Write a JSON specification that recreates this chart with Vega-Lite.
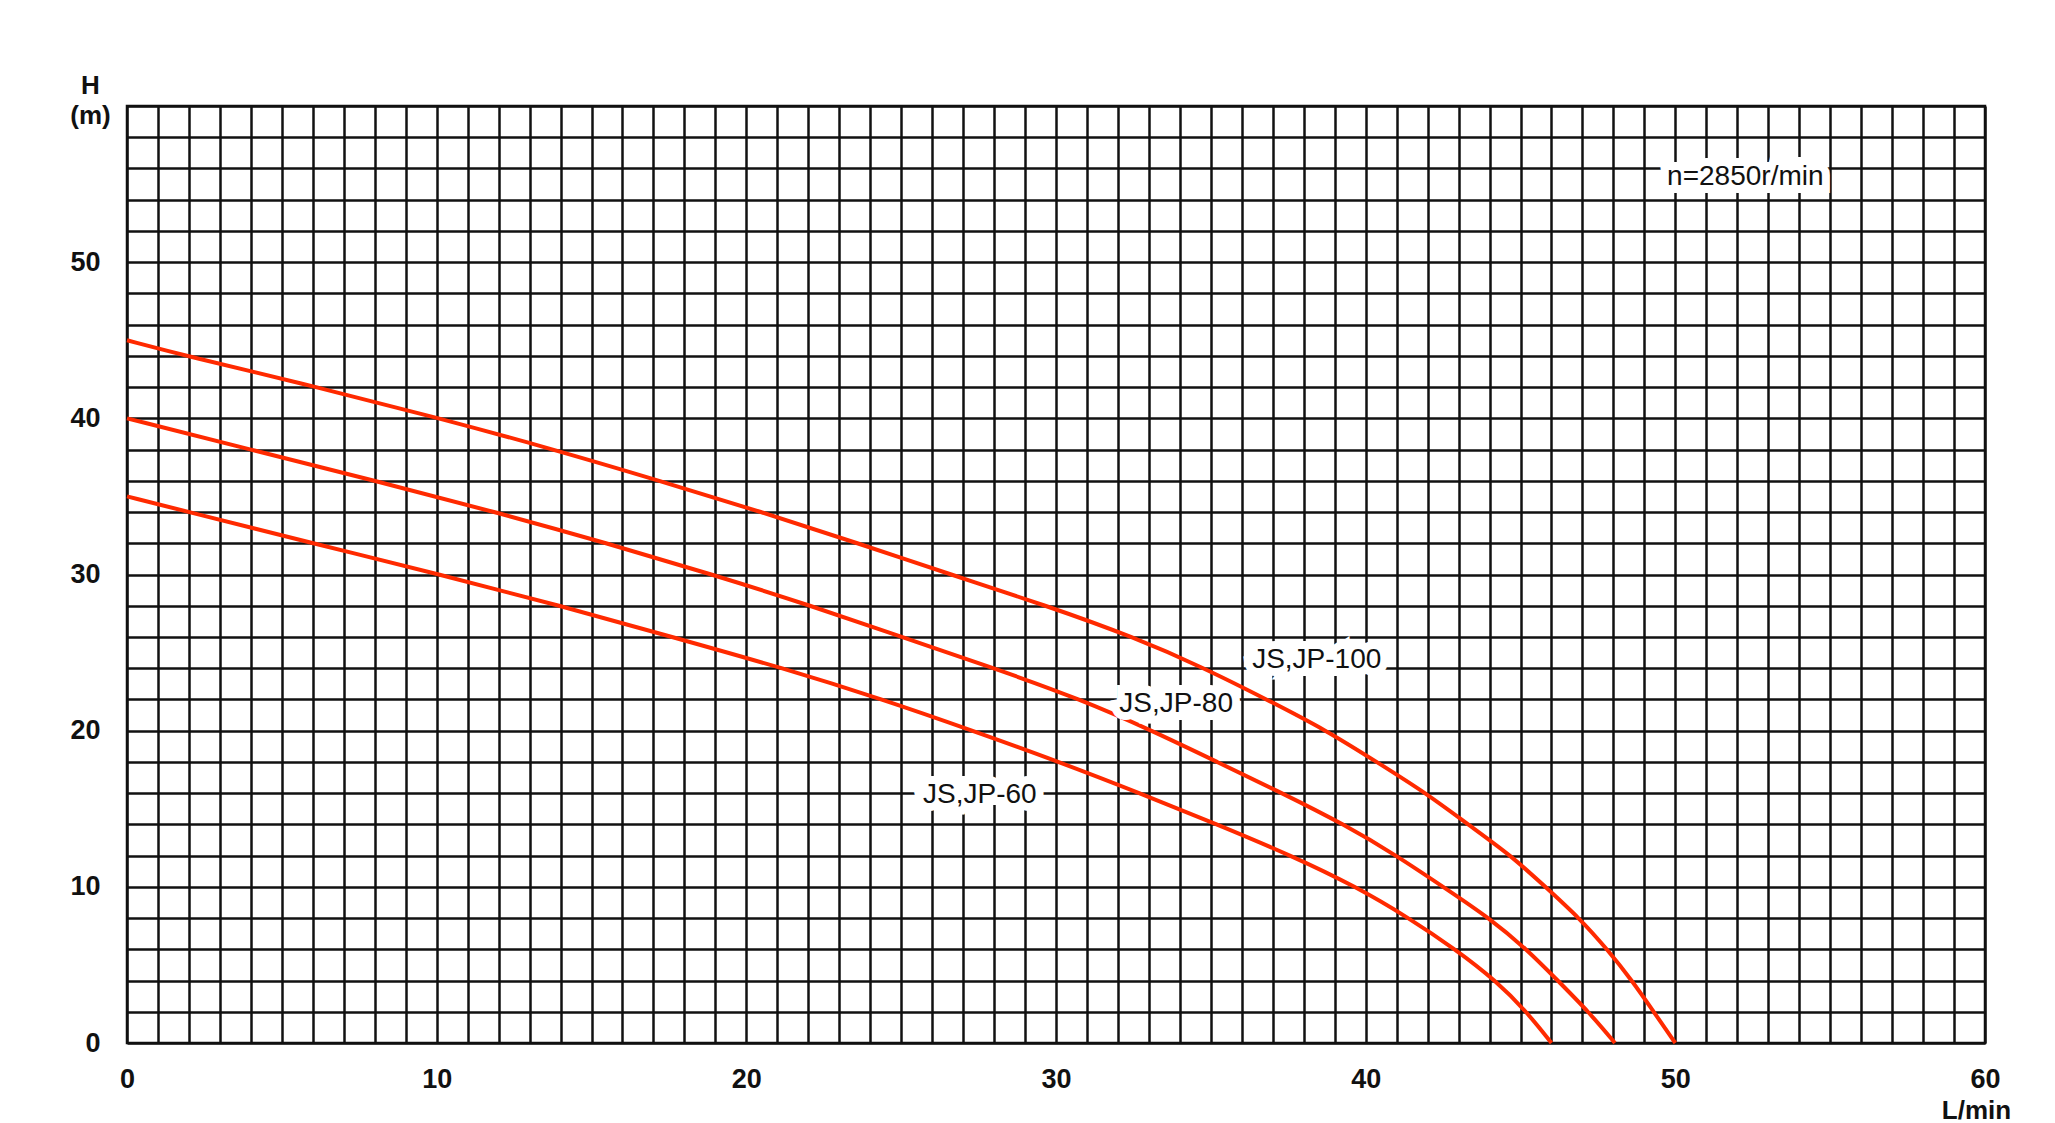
{
  "$schema": "https://vega.github.io/schema/vega-lite/v6.json",
  "width": 1858,
  "height": 937,
  "autosize": {"type": "none"},
  "padding": {"left": 127, "top": 106, "right": 70, "bottom": 80},
  "background": "white",
  "config": {
    "view": {"stroke": "#111111", "strokeWidth": 2.5},
    "font": "Liberation Sans"
  },
  "datasets": {
    "curves": [
      {"model": "JS,JP-100", "q": 0, "h": 45},
      {"model": "JS,JP-100", "q": 1.9, "h": 44},
      {"model": "JS,JP-100", "q": 6.15, "h": 42},
      {"model": "JS,JP-100", "q": 10.1, "h": 40},
      {"model": "JS,JP-100", "q": 13.8, "h": 38},
      {"model": "JS,JP-100", "q": 17.2, "h": 36},
      {"model": "JS,JP-100", "q": 20.5, "h": 34},
      {"model": "JS,JP-100", "q": 23.6, "h": 32},
      {"model": "JS,JP-100", "q": 26.6, "h": 30},
      {"model": "JS,JP-100", "q": 29.7, "h": 28},
      {"model": "JS,JP-100", "q": 32.5, "h": 26},
      {"model": "JS,JP-100", "q": 34.8, "h": 24},
      {"model": "JS,JP-100", "q": 36.8, "h": 22},
      {"model": "JS,JP-100", "q": 38.75, "h": 20},
      {"model": "JS,JP-100", "q": 40.35, "h": 18},
      {"model": "JS,JP-100", "q": 41.95, "h": 16},
      {"model": "JS,JP-100", "q": 43.3, "h": 14},
      {"model": "JS,JP-100", "q": 44.7, "h": 12},
      {"model": "JS,JP-100", "q": 45.8, "h": 10},
      {"model": "JS,JP-100", "q": 46.9, "h": 8},
      {"model": "JS,JP-100", "q": 47.8, "h": 6},
      {"model": "JS,JP-100", "q": 48.6, "h": 4},
      {"model": "JS,JP-100", "q": 49.3, "h": 2},
      {"model": "JS,JP-100", "q": 50, "h": 0},
      {"model": "JS,JP-80", "q": 0, "h": 40},
      {"model": "JS,JP-80", "q": 4, "h": 38},
      {"model": "JS,JP-80", "q": 8, "h": 36},
      {"model": "JS,JP-80", "q": 11.9, "h": 34},
      {"model": "JS,JP-80", "q": 15.5, "h": 32},
      {"model": "JS,JP-80", "q": 18.9, "h": 30},
      {"model": "JS,JP-80", "q": 22.1, "h": 28},
      {"model": "JS,JP-80", "q": 25.0, "h": 26},
      {"model": "JS,JP-80", "q": 28.0, "h": 24},
      {"model": "JS,JP-80", "q": 30.8, "h": 22},
      {"model": "JS,JP-80", "q": 33.1, "h": 20},
      {"model": "JS,JP-80", "q": 35.2, "h": 18},
      {"model": "JS,JP-80", "q": 37.3, "h": 16},
      {"model": "JS,JP-80", "q": 39.3, "h": 14},
      {"model": "JS,JP-80", "q": 41, "h": 12},
      {"model": "JS,JP-80", "q": 42.5, "h": 10},
      {"model": "JS,JP-80", "q": 44, "h": 8},
      {"model": "JS,JP-80", "q": 45.2, "h": 6},
      {"model": "JS,JP-80", "q": 46.2, "h": 4},
      {"model": "JS,JP-80", "q": 47.2, "h": 2},
      {"model": "JS,JP-80", "q": 48.05, "h": 0},
      {"model": "JS,JP-60", "q": 0, "h": 35},
      {"model": "JS,JP-60", "q": 2, "h": 34},
      {"model": "JS,JP-60", "q": 6, "h": 32},
      {"model": "JS,JP-60", "q": 10.1, "h": 30},
      {"model": "JS,JP-60", "q": 14, "h": 28},
      {"model": "JS,JP-60", "q": 17.6, "h": 26},
      {"model": "JS,JP-60", "q": 21.2, "h": 24},
      {"model": "JS,JP-60", "q": 24.4, "h": 22},
      {"model": "JS,JP-60", "q": 27.3, "h": 20},
      {"model": "JS,JP-60", "q": 30.1, "h": 18},
      {"model": "JS,JP-60", "q": 32.7, "h": 16},
      {"model": "JS,JP-60", "q": 35.2, "h": 14},
      {"model": "JS,JP-60", "q": 37.6, "h": 12},
      {"model": "JS,JP-60", "q": 39.7, "h": 10},
      {"model": "JS,JP-60", "q": 41.4, "h": 8},
      {"model": "JS,JP-60", "q": 42.9, "h": 6},
      {"model": "JS,JP-60", "q": 44.2, "h": 4},
      {"model": "JS,JP-60", "q": 45.2, "h": 2},
      {"model": "JS,JP-60", "q": 46, "h": 0}
    ],
    "labels": [
      {"text": "JS,JP-100", "q": 38.42, "h": 24.0},
      {"text": "JS,JP-80", "q": 33.88, "h": 21.2},
      {"text": "JS,JP-60", "q": 27.54, "h": 15.36},
      {"text": "n=2850r/min", "q": 52.26, "h": 54.93}
    ]
  },
  "layer": [
    {
      "data": {"name": "curves"},
      "mark": {"type": "line", "interpolate": "basis", "strokeWidth": 4, "color": "#ff2a00"},
      "encoding": {
        "x": {
          "field": "q",
          "type": "quantitative",
          "scale": {"domain": [0, 60], "nice": false, "zero": false},
          "axis": {
            "values": [0,1,2,3,4,5,6,7,8,9,10,11,12,13,14,15,16,17,18,19,20,21,22,23,24,25,26,27,28,29,30,31,32,33,34,35,36,37,38,39,40,41,42,43,44,45,46,47,48,49,50,51,52,53,54,55,56,57,58,59,60],
            "tickCount": 200,
            "format": "d",
            "grid": true,
            "gridColor": "#111111",
            "gridWidth": 2.5,
            "gridOpacity": 1,
            "domain": false,
            "ticks": false,
            "labelExpr": "datum.value % 10 === 0 ? datum.label : ''",
            "labelOverlap": false,
            "labelFlush": false,
            "labelFont": "Liberation Sans",
            "labelFontWeight": "bold",
            "labelFontSize": 27,
            "labelColor": "#111111",
            "labelBaseline": "alphabetic",
            "labelPadding": 44,
            "title": "L/min",
            "titleX": 1849,
            "titleY": 75,
            "titleAlign": "center",
            "titleBaseline": "alphabetic",
            "titleFont": "Liberation Sans",
            "titleFontSize": 26,
            "titleFontWeight": "bold",
            "titleColor": "#111111"
          }
        },
        "y": {
          "field": "h",
          "type": "quantitative",
          "scale": {"domain": [0, 60], "nice": false},
          "axis": {
            "values": [0,2,4,6,8,10,12,14,16,18,20,22,24,26,28,30,32,34,36,38,40,42,44,46,48,50,52,54,56,58,60],
            "tickCount": 200,
            "format": "d",
            "grid": true,
            "gridColor": "#111111",
            "gridWidth": 2.5,
            "gridOpacity": 1,
            "domain": false,
            "ticks": false,
            "labelExpr": "datum.value % 10 === 0 && datum.value < 60 ? datum.label : ''",
            "labelOverlap": false,
            "labelFont": "Liberation Sans",
            "labelFontWeight": "bold",
            "labelFontSize": 27,
            "labelColor": "#111111",
            "labelBaseline": "middle",
            "labelPadding": 27,
            "title": ["H", "(m)"],
            "titleAngle": 0,
            "titleX": -37,
            "titleY": -13,
            "titleAlign": "center",
            "titleBaseline": "alphabetic",
            "titleLineHeight": 30,
            "titleFont": "Liberation Sans",
            "titleFontSize": 26,
            "titleFontWeight": "bold",
            "titleColor": "#111111"
          }
        },
        "detail": {"field": "model", "type": "nominal"}
      }
    },
    {
      "data": {"name": "labels"},
      "mark": {"type": "text", "font": "Liberation Sans", "fontSize": 28, "align": "center", "baseline": "alphabetic", "fill": "white", "stroke": "white", "strokeWidth": 16, "strokeJoin": "miter"},
      "encoding": {
        "x": {"field": "q", "type": "quantitative"},
        "y": {"field": "h", "type": "quantitative"},
        "text": {"field": "text"}
      }
    },
    {
      "data": {"name": "labels"},
      "mark": {"type": "text", "font": "Liberation Sans", "fontSize": 28, "align": "center", "baseline": "alphabetic", "fill": "#111111"},
      "encoding": {
        "x": {"field": "q", "type": "quantitative"},
        "y": {"field": "h", "type": "quantitative"},
        "text": {"field": "text"}
      }
    }
  ]
}
